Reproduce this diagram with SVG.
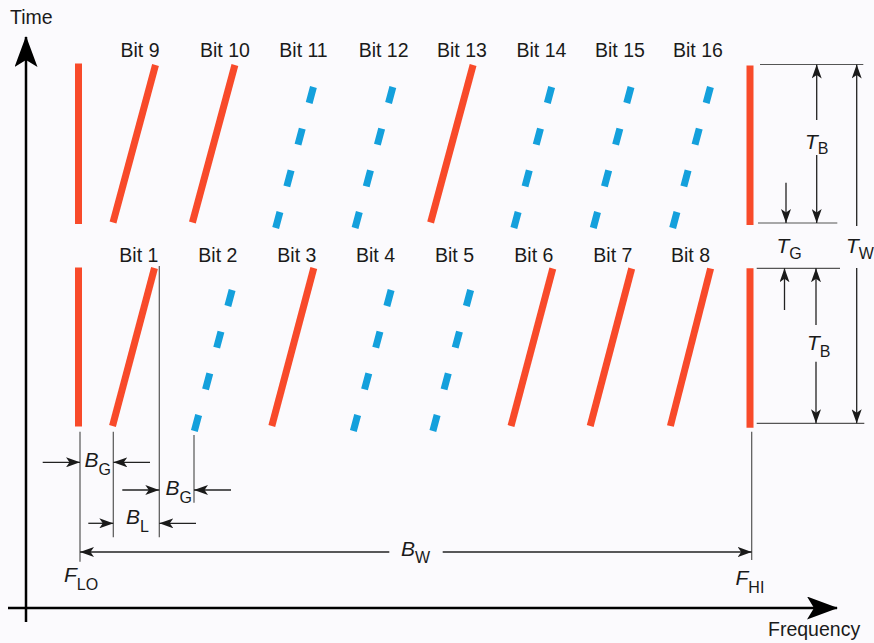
<svg xmlns="http://www.w3.org/2000/svg" width="874" height="643" viewBox="0 0 874 643">
<defs>
<marker id="arr" markerUnits="userSpaceOnUse" viewBox="0 0 14 10" markerWidth="14" markerHeight="10" refX="14" refY="5" orient="auto">
<path d="M0,0 L14,5 L0,10 L3.5,5 Z" fill="#1a1a1a"/>
</marker>
<marker id="axarr" markerUnits="userSpaceOnUse" viewBox="0 0 31 23" markerWidth="31" markerHeight="23" refX="30" refY="11.5" orient="auto">
<path d="M0,0 L31,11.5 L0,23 L7,11.5 Z" fill="#000"/>
</marker>
<style>
.red{stroke:#F84A2A;stroke-width:7;fill:none}
.blue{stroke:#14A0DC;stroke-width:7;fill:none;stroke-dasharray:16.56 26.58}
.guide{stroke:#555;stroke-width:1.2;fill:none}
.dim{stroke:#222;stroke-width:1.3;fill:none;marker-end:url(#arr)}
.axis{stroke:#000;stroke-width:2.5;fill:none;marker-end:url(#axarr)}
text{font-family:"Liberation Sans",Arial,sans-serif;fill:#1a1a1a}
.lbl{font-size:19.5px}
.sym{font-size:21px;font-style:italic}
.sub{font-size:16px;font-style:normal}
</style>
</defs>
<rect width="874" height="643" fill="#FBFAFD"/>

<g id="axes">
<line class="axis" x1="26" y1="622" x2="26" y2="37"/>
<line class="axis" x1="8" y1="608" x2="837" y2="608"/>
<text class="lbl" x="10" y="24">Time</text>
<text class="lbl" x="768" y="636">Frequency</text>
</g>

<g id="bounds">
<line class="red" x1="78.5" y1="63.5" x2="78.5" y2="224"/>
<line class="red" x1="78.5" y1="267.5" x2="78.5" y2="426.5"/>
<line class="red" x1="750" y1="65.5" x2="750" y2="225"/>
<line class="red" x1="750" y1="268.3" x2="750" y2="427.7"/>
</g>

<g id="bit9"><text class="lbl" x="120.5" y="56.5">Bit 9</text><line class="red" x1="155.5" y1="65" x2="113" y2="222.5"/></g>
<g id="bit10"><text class="lbl" x="200" y="56.5">Bit 10</text><line class="red" x1="234.9" y1="65" x2="192.4" y2="222.5"/></g>
<g id="bit11"><text class="lbl" x="279.3" y="56.5">Bit 11</text><line class="blue" x1="313.44" y1="87" x2="275.66" y2="228"/></g>
<g id="bit12"><text class="lbl" x="358.7" y="56.5">Bit 12</text><line class="blue" x1="392.84" y1="87" x2="355.06" y2="228"/></g>
<g id="bit13"><text class="lbl" x="437" y="56.5">Bit 13</text><line class="red" x1="473.1" y1="65" x2="430.6" y2="222.5"/></g>
<g id="bit14"><text class="lbl" x="516.5" y="56.5">Bit 14</text><line class="blue" x1="551.64" y1="87" x2="513.86" y2="228"/></g>
<g id="bit15"><text class="lbl" x="595" y="56.5">Bit 15</text><line class="blue" x1="631.04" y1="87" x2="593.26" y2="228"/></g>
<g id="bit16"><text class="lbl" x="673" y="56.5">Bit 16</text><line class="blue" x1="710.44" y1="87" x2="672.66" y2="228"/></g>

<g id="bit1"><text class="lbl" x="119.3" y="261.7">Bit 1</text><line class="red" x1="154.5" y1="268" x2="112.5" y2="426"/></g>
<g id="bit2"><text class="lbl" x="198.3" y="261.7">Bit 2</text><line class="blue" x1="232.14" y1="290" x2="194.36" y2="431"/></g>
<g id="bit3"><text class="lbl" x="277.3" y="261.7">Bit 3</text><line class="red" x1="313.8" y1="268" x2="271.8" y2="426"/></g>
<g id="bit4"><text class="lbl" x="356" y="261.7">Bit 4</text><line class="blue" x1="391.14" y1="290" x2="353.36" y2="431"/></g>
<g id="bit5"><text class="lbl" x="435" y="261.7">Bit 5</text><line class="blue" x1="470.64" y1="290" x2="432.86" y2="431"/></g>
<g id="bit6"><text class="lbl" x="514.3" y="261.7">Bit 6</text><line class="red" x1="552.8" y1="268.5" x2="511" y2="426"/></g>
<g id="bit7"><text class="lbl" x="593.3" y="261.7">Bit 7</text><line class="red" x1="631.7" y1="268.5" x2="590.2" y2="426"/></g>
<g id="bit8"><text class="lbl" x="671" y="261.7">Bit 8</text><line class="red" x1="710.6" y1="268.5" x2="670.4" y2="426"/></g>

<g id="guides">
<line class="guide" x1="80" y1="431.7" x2="80" y2="561.7"/>
<line class="guide" x1="113.3" y1="431.7" x2="113.3" y2="537.3"/>
<line class="guide" x1="159.3" y1="266" x2="159.3" y2="537.3"/>
<line class="guide" x1="194" y1="435" x2="194" y2="502.7"/>
<line class="guide" x1="751.7" y1="431.7" x2="751.7" y2="560"/>
<line class="guide" x1="760" y1="64.5" x2="863.3" y2="64.5"/>
<line class="guide" x1="758" y1="223" x2="837.3" y2="223"/>
<line class="guide" x1="756.7" y1="268.3" x2="840" y2="268.3"/>
<line class="guide" x1="756.7" y1="423.3" x2="864.3" y2="423.3"/>
</g>

<g id="connectors">
<line class="dim" x1="42.7" y1="462.3" x2="80" y2="462.3"/>
<line class="dim" x1="150" y1="462.3" x2="113.3" y2="462.3"/>
<line class="dim" x1="122.3" y1="490" x2="159.3" y2="490"/>
<line class="dim" x1="231" y1="490" x2="194" y2="490"/>
<line class="dim" x1="88.3" y1="523.3" x2="113.3" y2="523.3"/>
<line class="dim" x1="196" y1="523.3" x2="159.3" y2="523.3"/>
<line class="dim" x1="389.3" y1="552" x2="80" y2="552"/>
<line class="dim" x1="442.7" y1="552" x2="751.7" y2="552"/>
<line class="dim" x1="816.7" y1="120" x2="816.7" y2="64.5"/>
<line class="dim" x1="816.7" y1="155" x2="816.7" y2="223"/>
<line class="dim" x1="856.7" y1="226" x2="856.7" y2="64.5"/>
<line class="dim" x1="856.7" y1="268" x2="856.7" y2="423.3"/>
<line class="dim" x1="786" y1="182.7" x2="786" y2="223"/>
<line class="dim" x1="784.5" y1="310" x2="784.5" y2="268.3"/>
<line class="dim" x1="816" y1="325" x2="816" y2="268.3"/>
<line class="dim" x1="816" y1="361.7" x2="816" y2="423.3"/>
</g>

<g id="labels">
<text class="sym" x="805" y="149">T<tspan class="sub" dy="5">B</tspan></text>
<text class="sym" x="776.5" y="253">T<tspan class="sub" dy="5.5">G</tspan></text>
<text class="sym" x="846" y="253">T<tspan class="sub" dy="6">W</tspan></text>
<text class="sym" x="807" y="350">T<tspan class="sub" dy="6.5">B</tspan></text>
<text class="sym" x="84.5" y="466.7">B<tspan class="sub" dy="8">G</tspan></text>
<text class="sym" x="165.5" y="495">B<tspan class="sub" dy="7.7">G</tspan></text>
<text class="sym" x="126" y="524">B<tspan class="sub" dy="7.7">L</tspan></text>
<text class="sym" x="401" y="556">B<tspan class="sub" dy="7">W</tspan></text>
<text class="sym" x="64" y="581.7">F<tspan class="sub" dy="8.3">LO</tspan></text>
<text class="sym" x="735.5" y="585">F<tspan class="sub" dy="7.7">HI</tspan></text>
</g>
</svg>
